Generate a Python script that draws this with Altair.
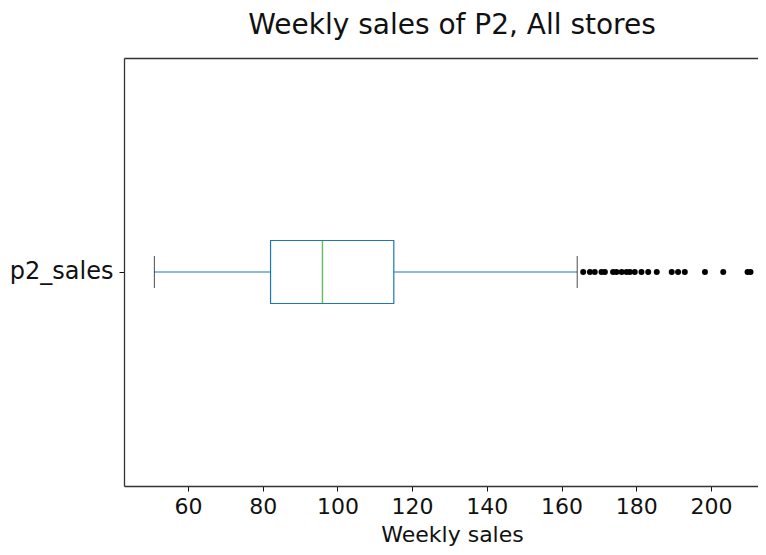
import altair as alt
import pandas as pd

category = ["p2_sales"]
whisker_low = [51.0]
q1 = [82.1]
median = [96.0]
q3 = [115.1]
whisker_high = [164.2]
outliers = [165.8, 167.6, 168.9, 170.7, 171.6, 173.8, 174.7, 176.1, 177.4, 178.3,
            179.6, 181.4, 183.2, 185.5, 189.5, 191.2, 193.0, 198.4, 203.3, 209.8, 210.6]
x_ticks = [60, 80, 100, 120, 140, 160, 180, 200]

FONT = "DejaVu Sans"
BLUE = "#1f77b4"
GREEN = "#2ca02c"
FRAME = "#333333"

stats = pd.DataFrame({
    "cat": category, "lo": whisker_low, "q1": q1, "med": median,
    "q3": q3, "hi": whisker_high,
})
whisk = pd.DataFrame({
    "cat": category * 2,
    "a": [whisker_low[0], q3[0]],
    "b": [q1[0], whisker_high[0]],
})
caps = pd.DataFrame({"cat": category * 2, "v": [whisker_low[0], whisker_high[0]]})
outl = pd.DataFrame({"cat": category * len(outliers), "v": outliers})

xscale = alt.Scale(domain=[42.87, 212.6], nice=False, zero=False)
yenc = alt.Y("cat:N", scale=alt.Scale(paddingInner=0, paddingOuter=0),
             axis=alt.Axis(title=None, labelFontSize=24, labelFont=FONT, labelColor="#111",
                           tickSize=5, tickColor="#111", labelPadding=6,
                           domainColor=FRAME, domainWidth=1.3, grid=False))

xaxis = alt.Axis(title="Weekly sales", values=x_ticks, grid=False,
                 labelFontSize=22, labelFont=FONT, labelColor="#111",
                 tickSize=5, tickColor="#111", labelPadding=5,
                 domainColor=FRAME, domainWidth=1.3,
                 titleFontSize=22, titleFont=FONT, titleFontWeight="normal", titleColor="#111",
                 titleX=328, titleY=55, titleBaseline="alphabetic")
topaxis = alt.Axis(orient="top", title=None, labels=False, ticks=False, grid=False,
                   domainColor=FRAME, domainWidth=1.3, minExtent=0, maxExtent=0)

whisker_layer = alt.Chart(whisk).mark_rule(color=BLUE, strokeWidth=1.2).encode(
    x=alt.X("a:Q", scale=xscale, axis=xaxis), x2="b:Q", y=yenc)

box_layer = alt.Chart(stats).mark_bar(fill="white", stroke=BLUE, strokeWidth=1.2, size=63).encode(
    x=alt.X("q1:Q", scale=xscale, axis=topaxis), x2="q3:Q", y=yenc)

median_layer = alt.Chart(stats).mark_tick(color=GREEN, thickness=1.5, size=63, orient="vertical").encode(
    x=alt.X("med:Q", scale=xscale, axis=None), y=yenc)

cap_layer = alt.Chart(caps).mark_tick(color="black", thickness=1, size=32, orient="vertical").encode(
    x=alt.X("v:Q", scale=xscale, axis=None), y=yenc)

out_layer = alt.Chart(outl).mark_circle(color="black", size=36, opacity=1).encode(
    x=alt.X("v:Q", scale=xscale, axis=None), y=yenc)

chart = alt.layer(whisker_layer, box_layer, median_layer, cap_layer, out_layer).resolve_axis(
    x="independent"
).properties(
    width=634, height=428,
    title=alt.TitleParams("Weekly sales of P2, All stores", fontSize=28, font=FONT,
                          fontWeight="normal", color="#111", anchor="middle",
                          baseline="alphabetic", offset=25, dx=11, dy=29),
    autosize=alt.AutoSizeParams(type="none"),
    padding={"left": 116, "top": 50, "right": 0, "bottom": 61},
).configure_view(stroke=None).configure(background="white")

chart.save("out.html", embed_options={"renderer": "svg", "actions": False})
